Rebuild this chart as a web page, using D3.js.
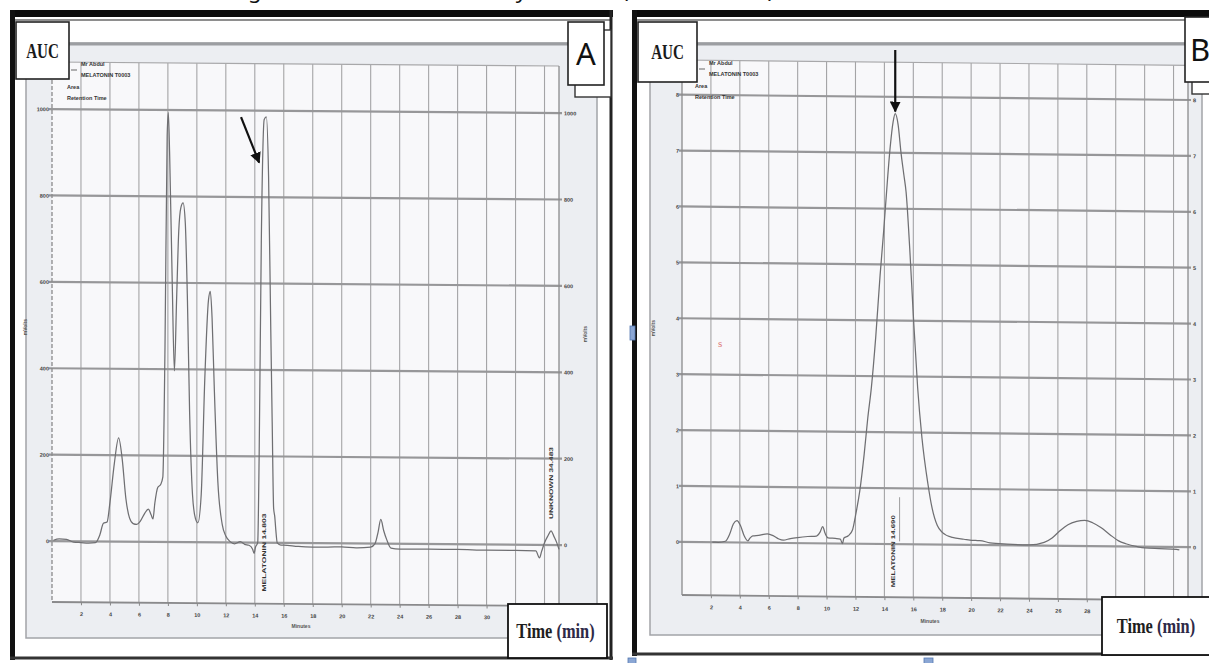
<!DOCTYPE html>
<html>
<head>
<meta charset="utf-8">
<script src="https://cdn.jsdelivr.net/npm/d3@7/dist/d3.min.js"></script>
<style>
html,body{margin:0;padding:0;background:#fff;overflow:hidden}
svg{display:block}
</style>
</head>
<body>
<svg id="chart" width="1209" height="663"></svg>
<script>
// ---------------- DATA ----------------
const timeTickLabels = [2,4,6,8,10,12,14,16,18,20,22,24,26,28,30];
const gridTimes = [2,4,6,8,10,12,14,16,18,20,22,24,26,28,30,32,34];
const timeDomain = [0, 35];

const panelA_yTicks = [0,200,400,600,800,1000];
const panelA_time = [0.1,0.5,1.0,1.5,2.0,2.5,3.0,3.3,3.55,3.8,4.0,4.3,4.6,4.85,5.1,5.35,5.6,5.85,6.1,6.4,6.65,6.85,6.97,7.1,7.3,7.5,7.65,7.8,7.95,8.03,8.12,8.3,8.45,8.6,8.75,8.9,9.05,9.2,9.35,9.5,9.7,9.9,10.07,10.3,10.55,10.8,10.93,11.05,11.2,11.45,11.75,12.0,12.3,12.6,13.0,13.3,13.6,13.85,13.95,14.05,14.2,14.3,14.45,14.65,14.8,14.95,15.1,15.2,15.3,15.38,15.45,15.55,15.8,16.0,17.0,18.0,19.0,20.0,21.0,22.0,22.3,22.5,22.7,22.9,23.1,23.4,24.0,26.0,28.0,30.0,32.0,33.4,33.65,33.8,34.0,34.25,34.45,34.65,34.85,35.0];
const panelA_signal = [2,5,4,-2,-3,-4,-3,15,42,45,90,180,240,190,100,55,42,40,48,66,76,62,53,90,126,133,150,450,940,994,900,600,396,560,720,775,785,740,560,300,110,55,45,110,380,560,581,520,360,140,42,15,2,-3,2,-4,-6,-15,-25,-10,0,200,700,980,986,850,500,280,80,60,30,0,-5,-5,-8,-9,-9,-8,-10,-8,0,25,56,30,10,-10,-12,-12,-12,-13,-13,-14,-30,-15,5,22,33,20,5,-10];

const panelB_yTicks = [0,1,2,3,4,5,6,7,8];
const panelB_time = [2.1,2.5,3.0,3.3,3.55,3.8,4.05,4.3,4.55,4.7,4.9,5.3,5.9,6.3,6.7,7.0,7.5,8.0,8.7,9.3,9.55,9.73,9.9,10.1,10.6,10.95,11.1,11.2,11.5,11.8,12.0,12.3,12.6,12.85,13.1,13.4,13.7,13.95,14.15,14.4,14.6,14.75,14.95,15.15,15.35,15.5,15.75,16.0,16.3,16.6,17.0,17.3,17.66,18.0,18.7,19.5,20.3,20.6,21.3,22.5,24.0,25.05,25.6,26.1,26.7,27.3,27.86,28.4,29.0,29.6,30.2,30.7,31.5,32.0,33.0,34.2,34.4];
const panelB_signal = [0,0,0.02,0.15,0.33,0.39,0.3,0.12,0.03,0.08,0.12,0.13,0.16,0.13,0.07,0.05,0.08,0.1,0.12,0.13,0.2,0.3,0.18,0.1,0.09,0.08,0.0,0.1,0.14,0.25,0.5,0.95,1.6,2.25,2.8,3.7,4.8,5.6,6.3,7.1,7.55,7.7,7.5,7.0,6.6,6.3,5.3,4.1,2.8,1.9,1.1,0.65,0.34,0.22,0.13,0.1,0.08,0.08,0.04,0.02,0.01,0.06,0.14,0.26,0.38,0.44,0.46,0.42,0.33,0.21,0.1,0.05,0.0,-0.02,-0.03,-0.04,-0.05];

const legendLabels = ["Mr Abdul", "MELATONIN T0003", "Area", "Retention Time"];
const panelLetters = ["A", "B"];
const retentionLabelsA = ["MELATONIN  14.803", "UNKNOWN  34.483"];
const retentionLabelsB = ["MELATONIN  14.690"];

// ---------------- LAYOUT ----------------
const svg = d3.select("#chart");
const defs = svg.append("defs");
defs.append("marker").attr("id","ah").attr("viewBox","0 0 10 10")
  .attr("refX",9).attr("refY",5).attr("markerWidth",5).attr("markerHeight",5)
  .attr("orient","auto-start-reverse")
  .append("path").attr("d","M0,0 L10,5 L0,10 z").attr("fill","#111");

// caption of the figure, cropped by the top edge in the source picture (only descenders show)
const cap = svg.append("g").attr("font-family","Noto Sans, sans-serif").attr("font-size",22).attr("fill","#111");
cap.append("text").attr("x",303).attr("y",-2).attr("text-anchor","end").text("HPLC chromatogram");
cap.append("text").attr("x",527).attr("y",-2).attr("text-anchor","end").text("of melatonin assay");
cap.append("text").attr("x",622).attr("y",-2).attr("textLength",152).text("(standard)");

const panels = [
  {
    letter: panelLetters[0],
    frame:{x:10,y:10,w:603,h:650},
    paper:{x:26,y:43,w:571,h:595},
    plot:{x:52,y:62,w:507,h:540},
    yDomain:[-141,1109], yTicks:panelA_yTicks,
    time:panelA_time, signal:panelA_signal,
    skew:0.45, dashedLeft:true,
    auc:{x:16,y:22,w:53,h:57},
    letterBox:{x:568,y:22,w:36,h:63},
    timeBox:{x:508,y:604,w:99,h:54},
    legend:{x:67,y:66},
    arrows:[{t0:13.05,v0:985,t1:14.3,v1:880}],
    rtLabels:[{t:14.66,v:-113,len:78,text:retentionLabelsA[0]},{t:34.44,v:60,len:72,text:retentionLabelsA[1]}],
    xTitle:{x:301,y:628}, yTitle:{x:27,y:327}, yTitleR:{x:587,y:334}
  },
  {
    letter: panelLetters[1],
    frame:{x:632,y:10,w:600,h:646},
    paper:{x:650,y:43,w:552,h:592},
    plot:{x:682,y:60,w:506,h:535},
    yDomain:[-0.95,8.62], yTicks:panelB_yTicks,
    time:panelB_time, signal:panelB_signal,
    skew:0.6, dashedLeft:false,
    auc:{x:638,y:22,w:59,h:60},
    letterBox:{x:1185,y:17,w:30,h:65},
    timeBox:{x:1102,y:597,w:112,h:58},
    legend:{x:695,y:65},
    arrows:[{t0:14.75,v0:8.84,t1:14.75,v1:7.74}],
    rtLabels:[{t:14.6,v:-0.77,len:72,text:retentionLabelsB[0]}],
    rtLine:{t:15.05,v0:0.05,v1:0.84},
    xTitle:{x:930,y:623}, yTitle:{x:655,y:328}, yTitleR:null
  }
];

panels.forEach(drawPanel);

function drawPanel(c){
  const g = svg.append("g");
  const f = c.frame, pp = c.paper, p = c.plot;

  g.append("rect").attr("x",f.x).attr("y",f.y).attr("width",f.w).attr("height",f.h).attr("fill","#fff");
  g.append("rect").attr("x",pp.x).attr("y",pp.y).attr("width",pp.w).attr("height",pp.h)
    .attr("fill","#eceef2").attr("stroke","#a2a4a8").attr("stroke-width",1.5);
  g.append("line").attr("x1",pp.x).attr("x2",pp.x+pp.w).attr("y1",pp.y+1).attr("y2",pp.y+1)
    .attr("stroke","#9c9ea2").attr("stroke-width",3);
  g.append("line").attr("x1",f.x+3).attr("x2",f.x+f.w-3).attr("y1",f.y+10).attr("y2",f.y+10)
    .attr("stroke","#8e8e8e").attr("stroke-width",2);
  g.append("line").attr("x1",f.x).attr("x2",f.x+f.w).attr("y1",f.y+3.5).attr("y2",f.y+3.5)
    .attr("stroke","#0b0b0b").attr("stroke-width",7);
  g.append("line").attr("x1",f.x+2.5).attr("x2",f.x+2.5).attr("y1",f.y).attr("y2",f.y+f.h)
    .attr("stroke","#111").attr("stroke-width",5);
  g.append("line").attr("x1",f.x+f.w-2).attr("x2",f.x+f.w-2).attr("y1",f.y).attr("y2",f.y+f.h)
    .attr("stroke","#222").attr("stroke-width",3);
  g.append("line").attr("x1",f.x).attr("x2",f.x+f.w).attr("y1",f.y+f.h-2).attr("y2",f.y+f.h-2)
    .attr("stroke","#333").attr("stroke-width",3);

  const pg = g.append("g").attr("transform",`translate(${p.x},${p.y}) skewY(${c.skew})`);
  const x = d3.scaleLinear().domain(timeDomain).range([0,p.w]);
  const y = d3.scaleLinear().domain(c.yDomain).range([p.h,0]);

  pg.append("rect").attr("width",p.w).attr("height",p.h).attr("fill","#f8f8fa");

  pg.append("g").selectAll("line").data(gridTimes).join("line")
    .attr("x1",d=>x(d)).attr("x2",d=>x(d)).attr("y1",0).attr("y2",p.h)
    .attr("stroke","#a4a4a6").attr("stroke-width",1.1);
  pg.append("g").selectAll("line").data(c.yTicks).join("line")
    .attr("x1",-3).attr("x2",p.w+3).attr("y1",d=>y(d)).attr("y2",d=>y(d))
    .attr("stroke","#979799").attr("stroke-width",2.2);

  pg.append("line").attr("x1",0).attr("x2",p.w).attr("y1",0).attr("y2",0).attr("stroke","#a8a8aa").attr("stroke-width",1.2);
  pg.append("line").attr("x1",p.w).attr("x2",p.w).attr("y1",0).attr("y2",p.h).attr("stroke","#8a8a8c").attr("stroke-width",1.3);
  pg.append("line").attr("x1",0).attr("x2",p.w).attr("y1",p.h).attr("y2",p.h).attr("stroke","#8a8a8c").attr("stroke-width",1.8);
  pg.append("line").attr("x1",0).attr("x2",0).attr("y1",0).attr("y2",p.h).attr("stroke","#8a8a8c").attr("stroke-width",1.3)
    .attr("stroke-dasharray",c.dashedLeft?"4,2":null);

  const fmt = d3.format("d");
  const ax = d3.axisBottom(x).tickValues(timeTickLabels).tickSize(3).tickPadding(7).tickFormat(fmt);
  const axG = pg.append("g").attr("transform",`translate(0,${p.h})`).call(ax);
  const ayL = pg.append("g").call(d3.axisLeft(y).tickValues(c.yTicks).tickSize(0).tickPadding(3).tickFormat(fmt));
  const ayR = pg.append("g").attr("transform",`translate(${p.w},0)`).call(d3.axisRight(y).tickValues(c.yTicks).tickSize(0).tickPadding(5).tickFormat(fmt));
  [axG,ayL,ayR].forEach(a=>{
    a.select(".domain").remove();
    a.selectAll("line").attr("stroke","#888");
    a.selectAll("text").attr("font-family","Liberation Sans, Arial, sans-serif").attr("font-size",5.5)
      .attr("font-weight","bold").attr("fill","#444");
  });

  const pts = c.time.map((t,i)=>[t,c.signal[i]]);
  pg.append("path").datum(pts)
    .attr("d",d3.line().x(d=>x(d[0])).y(d=>y(d[1])).curve(d3.curveMonotoneX))
    .attr("fill","none").attr("stroke","#6f6f72").attr("stroke-width",1.25);

  if(c.rtLine){
    pg.append("line").attr("x1",x(c.rtLine.t)).attr("x2",x(c.rtLine.t))
      .attr("y1",y(c.rtLine.v0)).attr("y2",y(c.rtLine.v1)).attr("stroke","#888").attr("stroke-width",0.8);
  }
  c.rtLabels.forEach(r=>{
    pg.append("text").attr("transform",`translate(${x(r.t)+2},${y(r.v)}) rotate(-90)`)
      .attr("font-family","Liberation Sans, Arial, sans-serif").attr("font-size",5.5).attr("font-weight","bold")
      .attr("fill","#333").attr("textLength",r.len).attr("lengthAdjust","spacingAndGlyphs").text(r.text);
  });

  c.arrows.forEach(a=>{
    pg.append("line").attr("x1",x(a.t0)).attr("y1",y(a.v0)).attr("x2",x(a.t1)).attr("y2",y(a.v1))
      .attr("stroke","#111").attr("stroke-width",2.2).attr("marker-end","url(#ah)");
  });

  g.append("text").attr("x",c.xTitle.x).attr("y",c.xTitle.y).attr("text-anchor","middle")
    .attr("font-family","Liberation Sans, Arial, sans-serif").attr("font-size",5).attr("font-weight","bold").attr("fill","#555").text("Minutes");
  [c.yTitle,c.yTitleR].forEach(t=>{
    if(!t) return;
    g.append("text").attr("transform",`translate(${t.x},${t.y}) rotate(-90)`).attr("text-anchor","middle")
      .attr("font-family","Liberation Sans, Arial, sans-serif").attr("font-size",5).attr("font-weight","bold").attr("fill","#555").text("mVolts");
  });

  const lg = g.append("g").attr("font-family","Liberation Sans, Arial, sans-serif").attr("font-size",5.5)
    .attr("font-weight","bold").attr("fill","#333");
  const L = c.legend;
  lg.append("line").attr("x1",L.x+4).attr("x2",L.x+10).attr("y1",L.y+4).attr("y2",L.y+4).attr("stroke","#666");
  lg.append("text").attr("x",L.x+14).attr("y",L.y).text(legendLabels[0]);
  lg.append("text").attr("x",L.x+14).attr("y",L.y+11).text(legendLabels[1]);
  lg.append("text").attr("x",L.x).attr("y",L.y+23).text(legendLabels[2]);
  lg.append("text").attr("x",L.x).attr("y",L.y+34).text(legendLabels[3]);

  const A = c.auc;
  g.append("rect").attr("x",A.x).attr("y",A.y).attr("width",A.w).attr("height",A.h)
    .attr("fill","#fff").attr("stroke","#222").attr("stroke-width",1.6);
  g.append("text").attr("transform",`translate(${A.x+A.w/2},${A.y+A.h/2+7}) scale(0.72,1)`)
    .attr("text-anchor","middle").attr("font-family","Liberation Serif, Times New Roman, serif")
    .attr("font-weight","bold").attr("font-size",21).attr("fill","#1a1a1a").text("AUC");

  const B = c.letterBox;
  g.append("rect").attr("x",B.x+7).attr("y",B.y+8).attr("width",B.w).attr("height",B.h+4)
    .attr("fill","#fff").attr("stroke","#333").attr("stroke-width",1.4);
  g.append("rect").attr("x",B.x).attr("y",B.y).attr("width",B.w).attr("height",B.h)
    .attr("fill","#fff").attr("stroke","#222").attr("stroke-width",1.6);
  g.append("text").attr("x",B.x+B.w/2).attr("y",B.y+B.h/2+11).attr("text-anchor","middle")
    .attr("font-family","Noto Sans, Open Sans, sans-serif").attr("font-size",31).attr("fill","#111").text(c.letter);

  const T = c.timeBox;
  g.append("rect").attr("x",T.x).attr("y",T.y).attr("width",T.w).attr("height",T.h)
    .attr("fill","#fff").attr("stroke","#111").attr("stroke-width",1.8);
  const tt = g.append("text").attr("transform",`translate(${T.x+T.w/2-2},${T.y+T.h/2+7}) scale(0.78,1)`)
    .attr("text-anchor","middle").attr("font-family","Liberation Serif, Times New Roman, serif")
    .attr("font-weight","bold").attr("font-size",21).attr("fill","#1e1e1e");
  tt.append("tspan").text("Time ");
  tt.append("tspan").attr("fill","#2e2a48").text("(min)");
}

svg.append("text").attr("x",718).attr("y",347).attr("font-family","Liberation Serif, serif")
  .attr("font-size",11).attr("fill","#d77").text("s");

const handles = [{x:630,y:326,w:5,h:14},{x:628,y:658,w:8,h:6},{x:924,y:658,w:9,h:6}];
svg.append("g").selectAll("rect").data(handles).join("rect")
  .attr("x",d=>d.x).attr("y",d=>d.y).attr("width",d=>d.w).attr("height",d=>d.h)
  .attr("fill","#8aa6d4").attr("stroke","#5478b0").attr("stroke-width",0.8);
</script>
</body>
</html>
